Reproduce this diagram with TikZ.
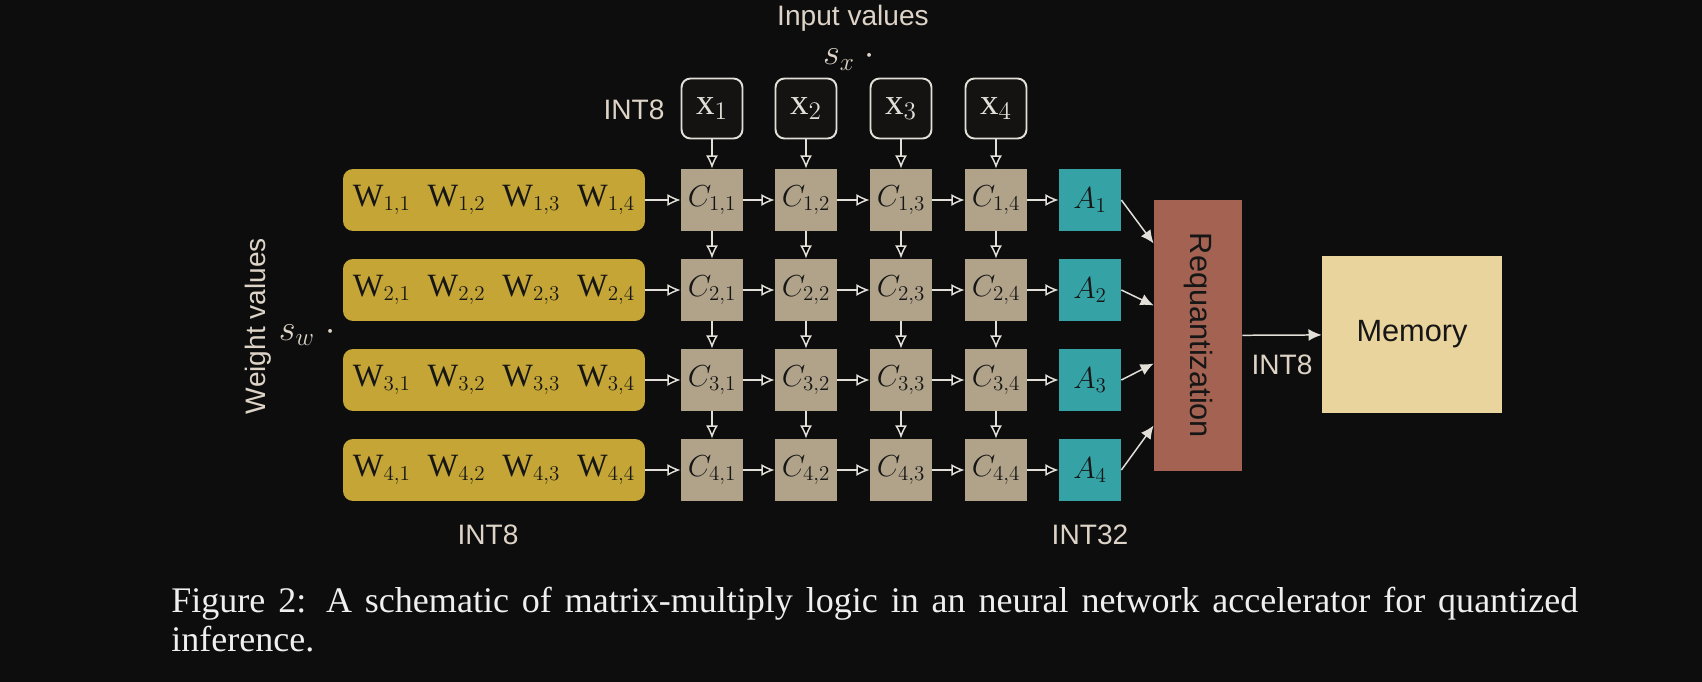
\documentclass[tikz,border=0pt]{standalone}
\usepackage{fontspec}
\setmainfont{Liberation Serif}
\setsansfont{Liberation Sans}
\usepackage{amsmath}
\usepackage{tikz}
\usetikzlibrary{positioning}
\usetikzlibrary{calc}
\usetikzlibrary{arrows.meta}
\definecolor{bgc}{HTML}{0D0D0D}
\definecolor{wcol}{HTML}{C4A535}
\definecolor{ccol}{HTML}{B1A38A}
\definecolor{acol}{HTML}{35A2A6}
\definecolor{rcol}{HTML}{A46352}
\definecolor{mcol}{HTML}{E9D49D}
\definecolor{arrc}{HTML}{E2DFD9}
\definecolor{labc}{HTML}{DED3C7}
\definecolor{xboxc}{HTML}{141311}
\definecolor{inkc}{HTML}{161616}
\definecolor{capc}{HTML}{EFEFEF}
\tikzset{
  wrow/.style={fill=wcol, rounded corners=0.2cm, minimum width=6.04cm, minimum height=1.24cm, inner sep=0pt, text=inkc, font=\fontsize{18.5}{20}\selectfont},
  cell/.style={fill=ccol, minimum size=1.24cm, inner sep=0pt, text=inkc, font=\fontsize{17.5}{19}\selectfont},
  acc/.style={fill=acol, minimum size=1.24cm, inner sep=0pt, text=inkc, font=\fontsize{17.5}{19}\selectfont},
  xin/.style={draw=arrc, fill=xboxc, line width=1.1pt, rounded corners=0.18cm, minimum width=1.22cm, minimum height=1.2cm, inner sep=0pt, text=arrc, font=\fontsize{21}{23}\selectfont},
  lab/.style={text=labc, inner sep=0pt, font=\sffamily\fontsize{16}{18}\selectfont},
  flow/.style={-{Latex[length=7.5pt,width=6.8pt]}, draw=arrc, line width=0.85pt},
  capt/.style={text=capc, inner sep=0pt, font=\rmfamily\fontsize{20.5}{22}\selectfont}
}

\begin{document}
\begin{tikzpicture}[x=0.02cm, y=-0.02cm]
\fill[bgc] (0,0) rectangle (1702,682);
\useasboundingbox (0,0) rectangle (1702,682);
% labels
\node[lab, anchor=base] (inlab) at (853,26) {Input values};
\node[lab, anchor=base, font=\fontsize{21}{23}\selectfont] (sxlab) at (849,65) {$s_x\;\cdot$};
\node[lab] (int8top) at (634,110) {INT8};
\node[lab, rotate=90] (wlab) at (258,326) {Weight values};
\node[lab, font=\fontsize{21}{23}\selectfont] (swlab) at (307,335) {$s_w\;\cdot$};
\node[lab] (int8w) at (488,535) {INT8};
\node[lab] (int32) at (1090,535) {INT32};
% inputs
\node[xin] (x1) at (712,108.5) {$\mathrm{x}_1$};
\node[xin] (x2) at (806,108.5) {$\mathrm{x}_2$};
\node[xin] (x3) at (901,108.5) {$\mathrm{x}_3$};
\node[xin] (x4) at (996,108.5) {$\mathrm{x}_4$};
% weights
\node[wrow] (w1) at (494,200) {$\mathrm{W}_{1,1}\;\;\mathrm{W}_{1,2}\;\;\mathrm{W}_{1,3}\;\;\mathrm{W}_{1,4}$};
\node[wrow] (w2) at (494,290) {$\mathrm{W}_{2,1}\;\;\mathrm{W}_{2,2}\;\;\mathrm{W}_{2,3}\;\;\mathrm{W}_{2,4}$};
\node[wrow] (w3) at (494,380) {$\mathrm{W}_{3,1}\;\;\mathrm{W}_{3,2}\;\;\mathrm{W}_{3,3}\;\;\mathrm{W}_{3,4}$};
\node[wrow] (w4) at (494,470) {$\mathrm{W}_{4,1}\;\;\mathrm{W}_{4,2}\;\;\mathrm{W}_{4,3}\;\;\mathrm{W}_{4,4}$};
% cells
\node[cell] (c11) at (712,200) {$C_{1,1}$};
\node[cell] (c12) at (806,200) {$C_{1,2}$};
\node[cell] (c13) at (901,200) {$C_{1,3}$};
\node[cell] (c14) at (996,200) {$C_{1,4}$};
\node[cell] (c21) at (712,290) {$C_{2,1}$};
\node[cell] (c22) at (806,290) {$C_{2,2}$};
\node[cell] (c23) at (901,290) {$C_{2,3}$};
\node[cell] (c24) at (996,290) {$C_{2,4}$};
\node[cell] (c31) at (712,380) {$C_{3,1}$};
\node[cell] (c32) at (806,380) {$C_{3,2}$};
\node[cell] (c33) at (901,380) {$C_{3,3}$};
\node[cell] (c34) at (996,380) {$C_{3,4}$};
\node[cell] (c41) at (712,470) {$C_{4,1}$};
\node[cell] (c42) at (806,470) {$C_{4,2}$};
\node[cell] (c43) at (901,470) {$C_{4,3}$};
\node[cell] (c44) at (996,470) {$C_{4,4}$};
% accumulators
\node[acc] (a1) at (1090,200) {$A_1$};
\node[acc] (a2) at (1090,290) {$A_2$};
\node[acc] (a3) at (1090,380) {$A_3$};
\node[acc] (a4) at (1090,470) {$A_4$};
% requantization and memory
\node[fill=rcol, minimum width=1.76cm, minimum height=5.42cm, inner sep=0pt] (req) at (1198,335.5) {};
\node[rotate=-90, text=inkc, inner sep=0pt, font=\sffamily\fontsize{17.5}{19}\selectfont] (reqtext) at (req) {Requantization};
\node[fill=mcol, minimum width=3.6cm, minimum height=3.14cm, inner sep=0pt, text=inkc, font=\sffamily\fontsize{17.5}{19}\selectfont] (mem) at (1412,334.5) {Memory};
\node[lab] (int8out) at (1282,365) {INT8};
% connectors
\draw[flow] (x1) edge (c11) (x2) edge (c12) (x3) edge (c13) (x4) edge (c14);
\draw[flow] (w1) edge (c11) (c11) edge (c12) (c12) edge (c13) (c13) edge (c14) (c14) edge (a1);
\draw[flow] (w2) edge (c21) (c21) edge (c22) (c22) edge (c23) (c23) edge (c24) (c24) edge (a2);
\draw[flow] (w3) edge (c31) (c31) edge (c32) (c32) edge (c33) (c33) edge (c34) (c34) edge (a3);
\draw[flow] (w4) edge (c41) (c41) edge (c42) (c42) edge (c43) (c43) edge (c44) (c44) edge (a4);
\draw[flow] (c11) edge (c21) (c12) edge (c22) (c13) edge (c23) (c14) edge (c24);
\draw[flow] (c21) edge (c31) (c22) edge (c32) (c23) edge (c33) (c24) edge (c34);
\draw[flow] (c31) edge (c41) (c32) edge (c42) (c33) edge (c43) (c34) edge (c44);
\draw[flow] (a1.east) -- ($(req.west)+(0,-92)$);
\draw[flow] (a2.east) -- ($(req.west)+(0,-30)$);
\draw[flow] (a3.east) -- ($(req.west)+(0,28)$);
\draw[flow] (a4.east) -- ($(req.west)+(0,90)$);
\draw[flow] (req) -- (mem);
% caption
\node[capt, anchor=base west] (cap1) at (171,612) {\makebox[28.14cm][s]{Figure 2: A schematic of matrix-multiply logic in an neural network accelerator for quantized}};
\node[capt, anchor=base west] (cap2) at (171,651) {inference.};
\end{tikzpicture}
\end{document}
